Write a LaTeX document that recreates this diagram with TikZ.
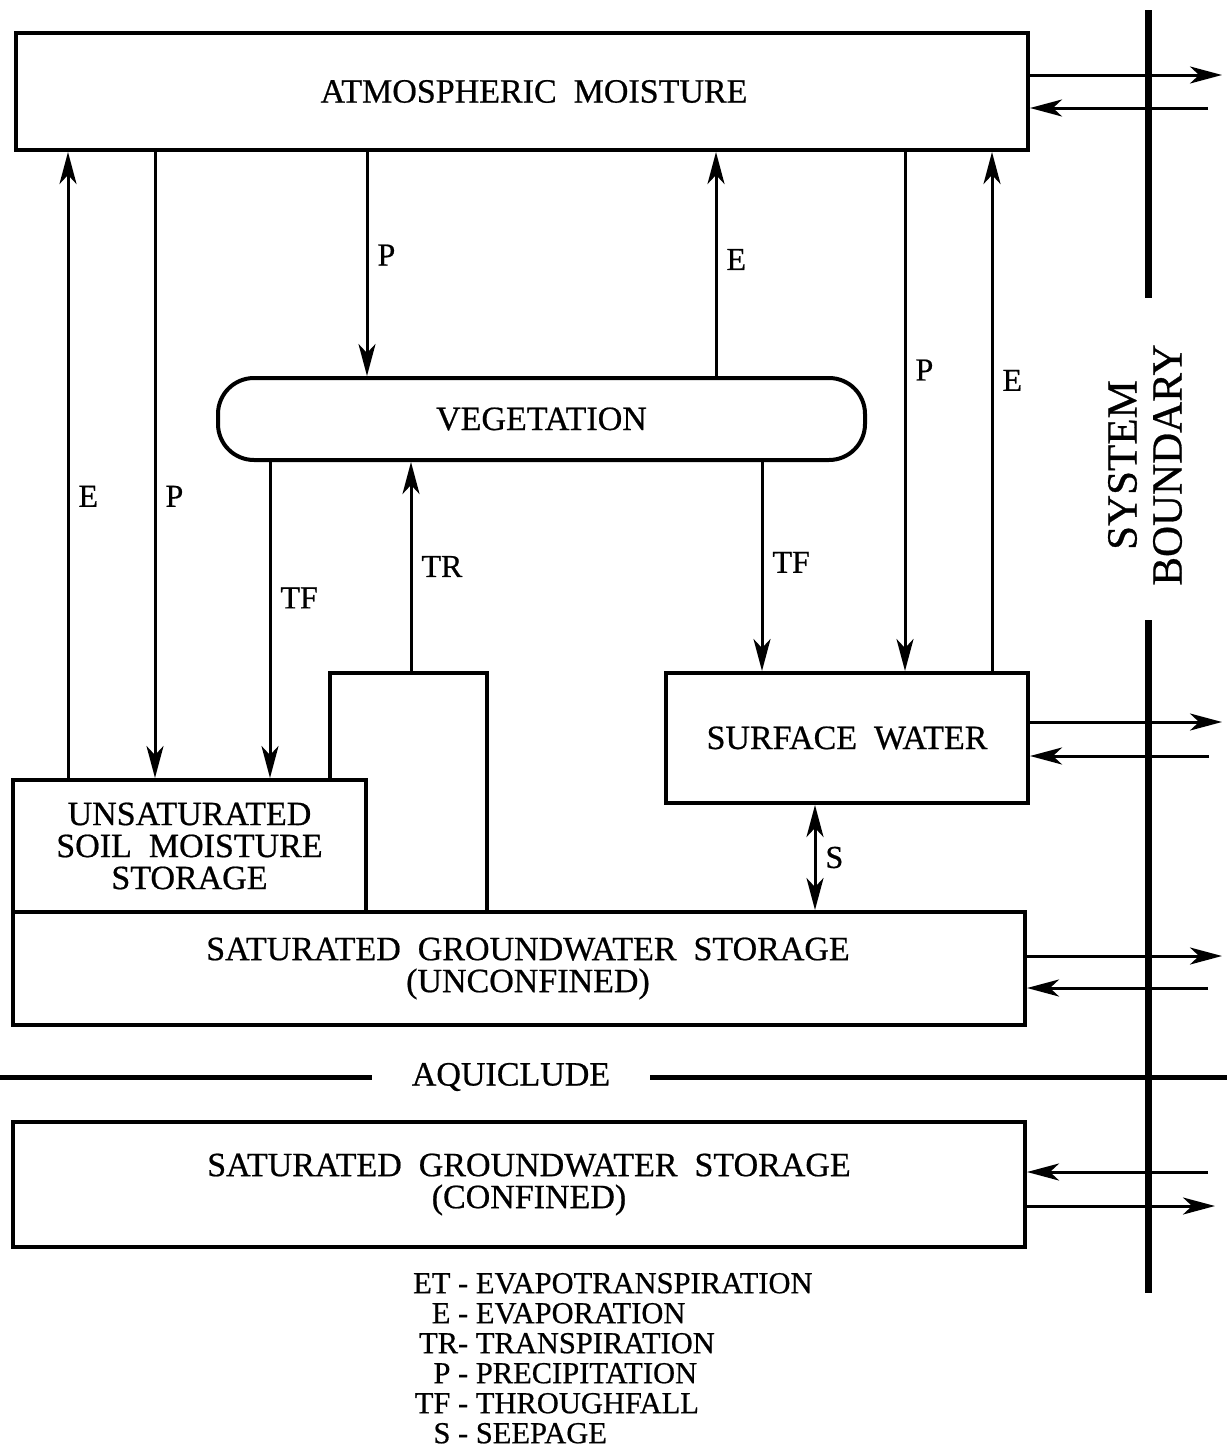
\documentclass[tikz,border=0pt]{standalone}
\usepackage{fontspec}
\setmainfont{Liberation Serif}[FakeBold=0.6]
\newfontfamily\rotulofont{Liberation Serif}[WordSpace=2, FakeBold=0.6]
\usetikzlibrary{arrows.meta}

\begin{document}
\begin{tikzpicture}[
    x=1pt, y=-1pt,
    caixa/.style={
        draw,
        line width=4pt,
        align=center,
        inner sep=0pt,
        font=\fontsize{34}{32}\rotulofont
    },
    seta/.style={
        -{Stealth[length=32pt, width=17pt, inset=9pt]},
        line width=3pt
    },
    setadupla/.style={
        {Stealth[length=32pt, width=17pt, inset=9pt]}-{Stealth[length=32pt, width=17pt, inset=9pt]},
        line width=3pt
    },
    rotulo/.style={
        right=9pt,
        inner sep=0pt,
        font=\fontsize{32}{32}\selectfont
    },
    limite/.style={
        line width=7pt
    }
]

\useasboundingbox (0,0) rectangle (1227,1448);

% Umidade atmosferica
\node[caixa, minimum width=1012pt, minimum height=117pt] (atm) at (522,91.5)
{\hspace{24pt}ATMOSPHERIC MOISTURE};

% Vegetacao
\node[caixa, rounded corners=36pt, minimum width=647pt, minimum height=82pt] (veg) at (541.5,419)
{VEGETATION};

% Raizes
\node[caixa, minimum width=157pt, minimum height=239pt] (raiz) at (408.5,792.5) {};

% Solo nao saturado
\node[caixa, fill=white, minimum width=353pt, minimum height=132pt] (insat) at (189.5,846)
{UNSATURATED\\SOIL MOISTURE\\STORAGE};

% Agua superficial
\node[caixa, minimum width=362pt, minimum height=130pt] (sup) at (847,738)
{SURFACE WATER};

% Agua subterranea
\node[caixa, minimum width=1012pt, minimum height=113pt] (livre) at (519,968.5)
{\hspace{18pt}SATURATED GROUNDWATER STORAGE\\\hspace{18pt}(UNCONFINED)};
\node[caixa, minimum width=1012pt, minimum height=125pt] (conf) at (519,1184.5)
{\hspace{20pt}SATURATED GROUNDWATER STORAGE\\\hspace{20pt}(CONFINED)};

% Setas verticais
\draw[seta] (insat.north -| 68,0) -- node[rotulo, pos=.45]{E} (atm.south -| 68,0);
\draw[seta] (atm.south -| 155,0) -- node[rotulo, pos=.55]{P} (insat.north -| 155,0);
\draw[seta] (atm.south -| 367,0) -- node[rotulo, pos=.46]{P} (veg.north -| 367,0);
\draw[seta] (veg.north -| 716,0) -- node[rotulo, pos=.52]{E} (atm.south -| 716,0);
\draw[seta] (atm.south -| 905,0) -- node[rotulo, pos=.42]{P} (sup.north -| 905,0);
\draw[seta] (sup.north -| 992,0) -- node[rotulo, pos=.56]{E} (atm.south -| 992,0);
\draw[seta] (veg.south -| 270,0) -- node[rotulo, pos=.43]{TF} (insat.north -| 270,0);
\draw[seta] (raiz.north -| 411,0) -- node[rotulo, pos=.5]{TR} (veg.south -| 411,0);
\draw[seta] (veg.south -| 762,0) -- node[rotulo, pos=.48]{TF} (sup.north -| 762,0);
\draw[setadupla] (sup.south -| 815,0) -- node[rotulo]{S} (livre.north -| 815,0);

% Limite do sistema
\coordinate (limA) at (1148,10);
\coordinate (limB) at (1148,298);
\coordinate (limC) at (1148,620);
\coordinate (limD) at (1148,1293);
\draw[limite] (limA) -- (limB);
\draw[limite] (limC) -- (limD);
\node[rotate=90, align=center, inner sep=0pt, font=\fontsize{43}{45}\selectfont] (limtxt) at (1145,465)
{SYSTEM\\BOUNDARY};

% Trocas com o exterior
\coordinate (atmSai) at (1222,75);
\coordinate (atmEntra) at (1208,108);
\coordinate (supSai) at (1222,722);
\coordinate (supEntra) at (1209,756);
\coordinate (livreSai) at (1222,956);
\coordinate (livreEntra) at (1208,988);
\coordinate (confEntra) at (1208,1172);
\coordinate (confSai) at (1215,1206);
\draw[seta] (atm.east |- atmSai) -- (atmSai);
\draw[seta] (atmEntra) -- (atm.east |- atmEntra);
\draw[seta] (sup.east |- supSai) -- (supSai);
\draw[seta] (supEntra) -- (sup.east |- supEntra);
\draw[seta] (livre.east |- livreSai) -- (livreSai);
\draw[seta] (livreEntra) -- (livre.east |- livreEntra);
\draw[seta] (confEntra) -- (conf.east |- confEntra);
\draw[seta] (conf.east |- confSai) -- (confSai);

% Aquiclude
\coordinate (aqA) at (0,1077);
\coordinate (aqB) at (1227,1077);
\node[inner xsep=40pt, font=\fontsize{34}{32}\rotulofont] (aqui) at (511,1077) {AQUICLUDE};
\draw[line width=5pt] (aqA) -- (aqui);
\draw[line width=5pt] (aqui) -- (aqB);

% Legenda
\node[anchor=north west, inner sep=0pt, font=\fontsize{30.5}{30}\selectfont] (legenda) at (413,1272)
{\begin{tabular}{@{}r@{ }l@{}}
ET - & EVAPOTRANSPIRATION\\
E - & EVAPORATION\\
TR- & TRANSPIRATION\\
P - & PRECIPITATION\\
TF - & THROUGHFALL\\
S - & SEEPAGE
\end{tabular}};

\end{tikzpicture}
\end{document}
